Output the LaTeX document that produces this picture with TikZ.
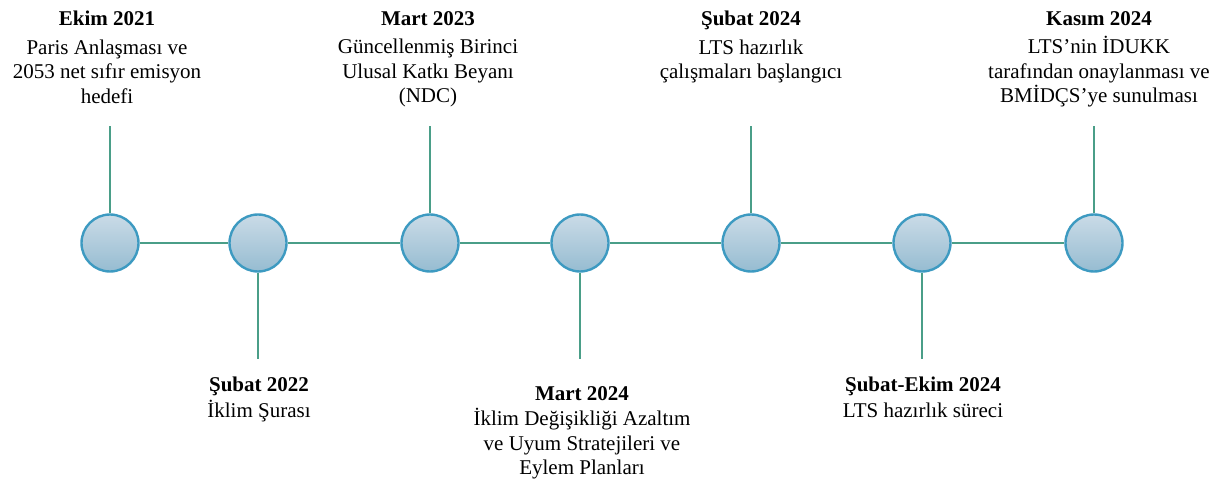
\documentclass[tikz,border=0pt]{standalone}
\usepackage{fontspec}
\setmainfont{Liberation Serif}
\usepackage{tikz}
\usetikzlibrary{positioning}
\definecolor{teal}{HTML}{4A9E88}
\definecolor{rim}{HTML}{3D9AC1}
\definecolor{lighttop}{HTML}{CADBE7}
\definecolor{darkbot}{HTML}{96BCD1}

\begin{document}
\begin{tikzpicture}[x=1pt,y=-1pt,
  event/.style={circle,draw=rim,line width=2.4pt,top color=lighttop,bottom color=darkbot,
    minimum size=57pt,inner sep=0pt},
  link/.style={teal,line width=2.8pt},
  label/.style={align=center,inner sep=0pt,font=\fontsize{21}{24.5}\selectfont}]
  \useasboundingbox (0,0) rectangle (1227,489);
  % events on the time line
  \node[event] (e1) at (110,243) {};
  \node[event] (e2) at (258,243) {};
  \node[event] (e3) at (430,243) {};
  \node[event] (e4) at (580,243) {};
  \node[event] (e5) at (751,243) {};
  \node[event] (e6) at (922,243) {};
  \node[event] (e7) at (1094,243) {};
  \draw[link] (e1)--(e2); \draw[link] (e2)--(e3); \draw[link] (e3)--(e4);
  \draw[link] (e4)--(e5); \draw[link] (e5)--(e6); \draw[link] (e6)--(e7);

  % stems
  \coordinate (s1) at (110,126);
  \coordinate (s2) at (258,359);
  \coordinate (s3) at (430,126);
  \coordinate (s4) at (580,359);
  \coordinate (s5) at (751,126);
  \coordinate (s6) at (922,359);
  \coordinate (s7) at (1094,126);
  \draw[link] (e1)--(s1); \draw[link] (e2)--(s2); \draw[link] (e3)--(s3);
  \draw[link] (e4)--(s4); \draw[link] (e5)--(s5); \draw[link] (e6)--(s6);
  \draw[link] (e7)--(s7);

  % labels above
  \node[label,anchor=north] (l1) at (107,11)
    {\textbf{Ekim 2021}\\[4pt] Paris Anlaşması ve\\ 2053 net sıfır emisyon\\ hedefi};
  \node[label,anchor=north] (l3) at (428,11)
    {\textbf{Mart 2023}\\[4pt] Güncellenmiş Birinci\\ Ulusal Katkı Beyanı\\ (NDC)};
  \node[label,anchor=north] (l5) at (751,11)
    {\textbf{Şubat 2024}\\[4pt] LTS hazırlık\\ çalışmaları başlangıcı};
  \node[label,anchor=north] (l7) at (1099,11)
    {\textbf{Kasım 2024}\\[4pt] LTS’nin İDUKK\\ tarafından onaylanması ve\\ BMİDÇS’ye sunulması};

  % labels below
  \node[label,anchor=north] (l2) at (259,377)
    {\textbf{Şubat 2022}\\[1pt] İklim Şurası};
  \node[label,anchor=north] (l4) at (582,386)
    {\textbf{Mart 2024}\\[1pt] İklim Değişikliği Azaltım\\ ve Uyum Stratejileri ve\\ Eylem Planları};
  \node[label,anchor=north] (l6) at (923,377)
    {\textbf{Şubat-Ekim 2024}\\[1pt] LTS hazırlık süreci};
\end{tikzpicture}
\end{document}
